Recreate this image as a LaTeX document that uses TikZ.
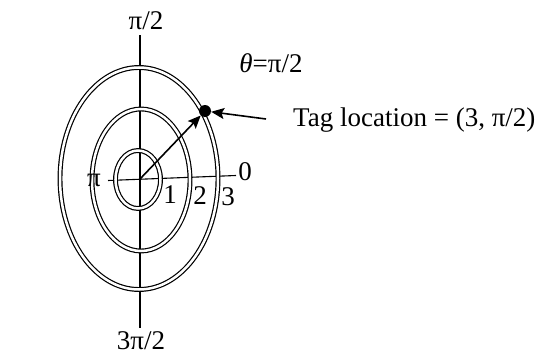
\documentclass[tikz,border=0pt]{standalone}
\usepackage{fontspec}
\setmainfont{Liberation Serif}
\usetikzlibrary{arrows.meta}
\begin{document}
\begin{tikzpicture}[x=1pt,y=-1pt,
  ring/.style={draw=black,double=white,line width=1.2pt,double distance=2.5pt},
  axis/.style={draw=black,line width=1.1pt},
  ptr/.style={draw=black,line width=1.6pt,-{Stealth[length=13pt,width=11pt,inset=2.5pt]}},
  lbl/.style={font=\fontsize{27}{32}\selectfont,inner sep=0pt}]
\useasboundingbox (0,0) rectangle (542,356);
% axes
\coordinate (vtop) at (140,35);
\coordinate (vbot) at (140,328);
\coordinate (hl) at (108,180.5);
\coordinate (hr) at (236,175.5);
\coordinate (o) at (140,179);
\draw[axis] (vtop) -- (vbot);
\draw[axis] (hl) -- (hr);
% rings
\draw[ring] (139,178.5) ellipse [x radius=79pt, y radius=111pt];
\draw[ring] (141,180) ellipse [x radius=49pt, y radius=71pt];
\draw[ring] (138,179.5) ellipse [x radius=22.5pt, y radius=29pt];
% tag
\node[circle,fill=black,inner sep=0pt,minimum size=12pt] (tag) at (205,111) {};
\coordinate (tail) at (266,119);
\draw[ptr] (o) -- (tag);
\draw[ptr] (tail) -- (tag);
% labels
\node[lbl] (lt) at (146,21) {π/2};
\node[lbl] (lb) at (141,341) {3π/2};
\node[lbl] (ll) at (94,180) {π};
\node[lbl] (lr) at (245,172) {0};
\node[lbl] (l1) at (170,195) {1};
\node[lbl] (l2) at (200,196) {2};
\node[lbl] (l3) at (228,197) {3};
\node[lbl] (th) at (271,63) {\textit{θ}=π/2};
\node[lbl,anchor=west] (tl) at (293,120) {Tag location = (3, π/2)};
\end{tikzpicture}
\end{document}
